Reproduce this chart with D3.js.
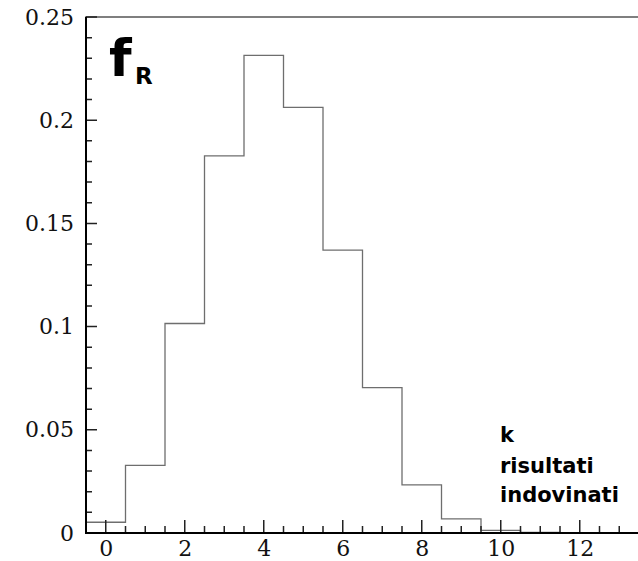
<!DOCTYPE html>
<html>
<head>
<meta charset="utf-8">
<script src="https://cdn.jsdelivr.net/npm/d3@7"></script>
<style>
  body { margin: 0; background: #fff; }
  svg { display: block; }
</style>
</head>
<body>
<div id="chart"></div>
<script>
// frequenze relative per k risultati indovinati
var kValues = [0, 1, 2, 3, 4, 5, 6, 7, 8, 9, 10, 11, 12, 13];
var freqs = [0.0052, 0.0328, 0.1015, 0.1827, 0.2314, 0.2062, 0.1371, 0.0704, 0.0233, 0.0068, 0.0013, 0.0003, 0, 0];
var xTicks = [0, 2, 4, 6, 8, 10, 12];
var yTicks = [0, 0.05, 0.1, 0.15, 0.2, 0.25];

var width = 638, height = 561;
var margin = {top: 17, right: -1, bottom: 28, left: 86};

var svg = d3.select("#chart").append("svg")
    .attr("width", width)
    .attr("height", height);

var x = d3.scaleLinear().domain([-0.5, 13.5]).range([margin.left, width - margin.right]);
var y = d3.scaleLinear().domain([0, 0.25]).range([height - margin.bottom, margin.top]);

// cornice
svg.append("rect")
    .attr("x", x(-0.5))
    .attr("y", y(0.25))
    .attr("width", x(13.5) - x(-0.5))
    .attr("height", y(0) - y(0.25))
    .attr("fill", "none")
    .attr("stroke", "#555")
    .attr("stroke-width", 1.5);

// istogramma a gradini
var pts = kValues.map(function (k, i) { return [k - 0.5, freqs[i]]; });
pts.push([13.5, freqs[freqs.length - 1]]);
var stepLine = d3.line()
    .x(function (d) { return x(d[0]); })
    .y(function (d) { return y(d[1]); })
    .curve(d3.curveStepAfter);

svg.append("path")
    .datum(pts)
    .attr("d", stepLine)
    .attr("fill", "none")
    .attr("stroke", "#6e6e6e")
    .attr("stroke-width", 1.3);

var serif = "'URW Palladio L', 'Palatino Linotype', Palatino, 'DejaVu Serif', 'Liberation Serif', serif";

// tacche interne, come un unico path
var xMinor = d3.range(-0.5, 13.51, 0.5).filter(function (v) { return xTicks.indexOf(v) < 0; });
var yMinor = d3.range(1, 25).filter(function (v) { return v % 5 !== 0; }).map(function (v) { return v / 100; });
var x0 = x(-0.5), y0 = y(0);
var tickPath = d3.path();
xMinor.forEach(function (d) { tickPath.moveTo(x(d), y0); tickPath.lineTo(x(d), y0 - 7); });
xTicks.forEach(function (d) { tickPath.moveTo(x(d), y0); tickPath.lineTo(x(d), y0 - 13); });
yMinor.forEach(function (d) { tickPath.moveTo(x0, y(d)); tickPath.lineTo(x0 + 6, y(d)); });
yTicks.forEach(function (d) { tickPath.moveTo(x0, y(d)); tickPath.lineTo(x0 + 11, y(d)); });
svg.append("path")
    .attr("d", tickPath.toString())
    .attr("fill", "none")
    .attr("stroke", "#222")
    .attr("stroke-width", 1.5);

// etichette assi
var gx = svg.append("g").attr("transform", "translate(0," + y(0) + ")");
gx.call(d3.axisBottom(x).tickValues(xTicks).tickSize(0).tickPadding(7).tickFormat(d3.format("d")));
gx.select(".domain").remove();
gx.selectAll(".tick line").remove();
gx.selectAll("text").attr("font-family", serif).attr("font-size", 22).attr("fill", "#111");

var gy = svg.append("g").attr("transform", "translate(" + x(-0.5) + ",0)");
gy.call(d3.axisLeft(y).tickValues(yTicks).tickSize(0).tickPadding(12)
    .tickFormat(function (d) { return d === 0 ? "0" : String(+d.toFixed(2)); }));
gy.select(".domain").remove();
gy.selectAll(".tick line").remove();
gy.selectAll("text").attr("font-family", serif).attr("font-size", 22).attr("fill", "#111");

// linee degli assi
svg.append("line")
    .attr("x1", x(-0.5)).attr("x2", x(13.5)).attr("y1", y(0)).attr("y2", y(0))
    .attr("stroke", "#000").attr("stroke-width", 2);
svg.append("line")
    .attr("x1", x(-0.5)).attr("x2", x(-0.5)).attr("y1", y(0) + 1).attr("y2", y(0.25))
    .attr("stroke", "#000").attr("stroke-width", 2);

// etichette
var comic = "'Comic Sans MS', 'DejaVu Sans', sans-serif";
svg.append("text")
    .attr("x", 109)
    .attr("y", 76)
    .attr("font-family", comic)
    .attr("font-weight", "bold")
    .attr("font-size", 52)
    .attr("fill", "#000")
    .text("f");
svg.append("text")
    .attr("x", 135)
    .attr("y", 84)
    .attr("font-family", comic)
    .attr("font-weight", "bold")
    .attr("font-size", 23)
    .attr("fill", "#000")
    .text("R");

var kLabel = ["k", "risultati", "indovinati"];
var kBase = [442, 473, 502];
svg.selectAll(".klab")
    .data(kLabel)
    .enter().append("text")
    .attr("class", "klab")
    .attr("x", 500)
    .attr("y", function (d, i) { return kBase[i]; })
    .attr("font-family", comic)
    .attr("font-weight", "bold")
    .attr("font-size", 21)
    .attr("fill", "#000")
    .text(function (d) { return d; });
</script>
</body>
</html>
